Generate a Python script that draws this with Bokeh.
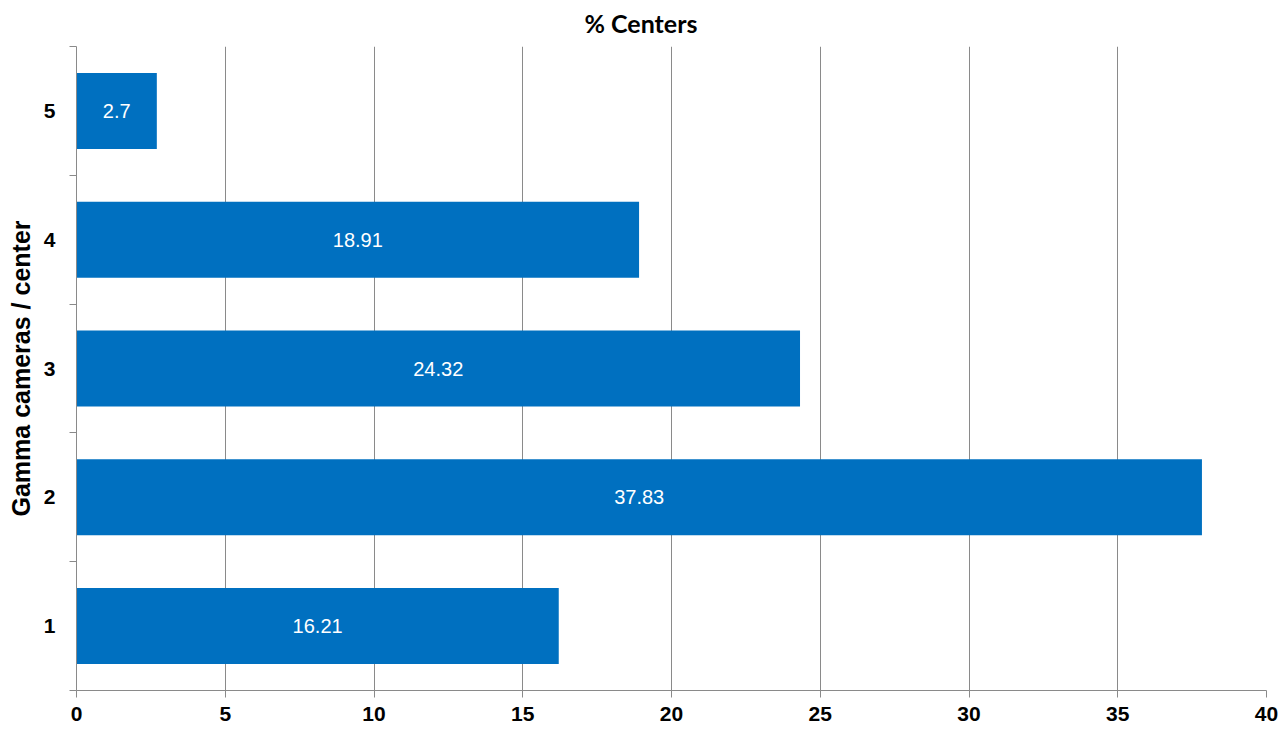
from bokeh.plotting import figure
from bokeh.models import ColumnDataSource, FixedTicker, Range1d, Title
from bokeh.core.properties import value
from bokeh.embed import file_html
from bokeh.resources import INLINE

categories = [1, 2, 3, 4, 5]
percent_centers = [16.21, 37.83, 24.32, 18.91, 2.7]
bar_labels = ["16.21", "37.83", "24.32", "18.91", "2.7"]
x_ticks = [0, 5, 10, 15, 20, 25, 30, 35, 40]

BAR_COLOR = "#0070C0"
GRID_COLOR = "#8a8a8a"

src = ColumnDataSource(dict(
    y=categories,
    right=percent_centers,
    mid=[v / 2 for v in percent_centers],
    label=bar_labels,
))

p = figure(
    width=1288, height=730,
    x_range=Range1d(0, 40), y_range=Range1d(0.5, 5.5),
    output_backend="svg", toolbar_location=None,
    min_border_left=76, min_border_right=22,
    min_border_top=45, min_border_bottom=40,
)
p.title = Title(text="% Centers", align="left", vertical_align="top",
                text_font="Lato",
                text_font_size="25px", text_font_style="bold",
                text_color="black", offset=508, standoff=14)

p.hbar(y="y", right="right", left=0, height=0.59, source=src,
       fill_color=BAR_COLOR, line_color=None)
p.text(x="mid", y="y", text="label", source=src,
       text_align="center", text_baseline="middle",
       text_color="white", text_font=value("Liberation Sans"),
       text_font_size="20px")

p.outline_line_color = None
p.background_fill_color = "white"
p.border_fill_color = "white"

# x axis
p.xaxis.ticker = FixedTicker(ticks=x_ticks)
p.xaxis.major_tick_out = 7
p.xaxis.major_tick_in = 0
p.xaxis.minor_tick_line_color = None
p.xaxis.axis_line_color = GRID_COLOR
p.xaxis.major_tick_line_color = GRID_COLOR
p.xaxis.major_label_text_font = "Liberation Sans"
p.xaxis.major_label_text_font_style = "bold"
p.xaxis.major_label_text_font_size = "21px"
p.xaxis.major_label_text_color = "black"
p.xaxis.major_label_standoff = 9

# y axis
p.yaxis.ticker = FixedTicker(ticks=categories,
                             minor_ticks=[0.5, 1.5, 2.5, 3.5, 4.5, 5.5])
p.yaxis.major_tick_out = 0
p.yaxis.major_tick_in = 0
p.yaxis.minor_tick_out = 7
p.yaxis.minor_tick_in = 0
p.yaxis.minor_tick_line_color = GRID_COLOR
p.yaxis.axis_line_color = GRID_COLOR
p.yaxis.major_label_text_font = "Liberation Sans"
p.yaxis.major_label_text_font_style = "bold"
p.yaxis.major_label_text_font_size = "21px"
p.yaxis.major_label_text_color = "black"
p.yaxis.major_label_standoff = 14
p.yaxis.axis_label = "Gamma cameras / center"
p.yaxis.axis_label_text_font = "Liberation Sans"
p.yaxis.axis_label_text_font_style = "bold"
p.yaxis.axis_label_text_font_size = "25px"
p.yaxis.axis_label_text_color = "black"
p.yaxis.axis_label_standoff = 6

# grid
p.xgrid.ticker = FixedTicker(ticks=x_ticks)
p.xgrid.grid_line_color = GRID_COLOR
p.xgrid.grid_line_width = 1
p.ygrid.grid_line_color = None

open("out.html", "w").write(file_html(p, INLINE))
